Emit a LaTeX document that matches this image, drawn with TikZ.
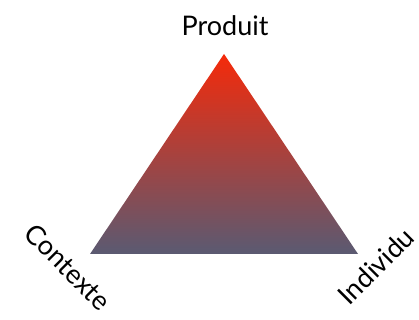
\documentclass[tikz,border=0pt]{standalone}
\usepackage{fontspec}
\setmainfont{Lato}
\usetikzlibrary{positioning}

\definecolor{topred}{HTML}{F52A0A}
\definecolor{baseslate}{HTML}{5A5A72}

\begin{document}
\begin{tikzpicture}[
    x=1pt, y=1pt,
    label/.style={font=\fontsize{27}{32}\selectfont, inner sep=0pt}
]
  \useasboundingbox (0,0) rectangle (419,320);

  % corners of the triangle
  \coordinate (apex) at (224,266);
  \coordinate (left) at (90,66);
  \coordinate (right) at (358,66);

  % shaded triangle
  \shade[top color=topred, bottom color=baseslate]
    (apex) -- (left) -- (right) -- cycle;

  % the three poles
  \node[label] (prod) at (225,294) {Produit};
  \node[label, rotate=-45] (ctx) at (68,53) {Contexte};
  \node[label, rotate=45] (indiv) at (376,54) {Individu};
\end{tikzpicture}
\end{document}
